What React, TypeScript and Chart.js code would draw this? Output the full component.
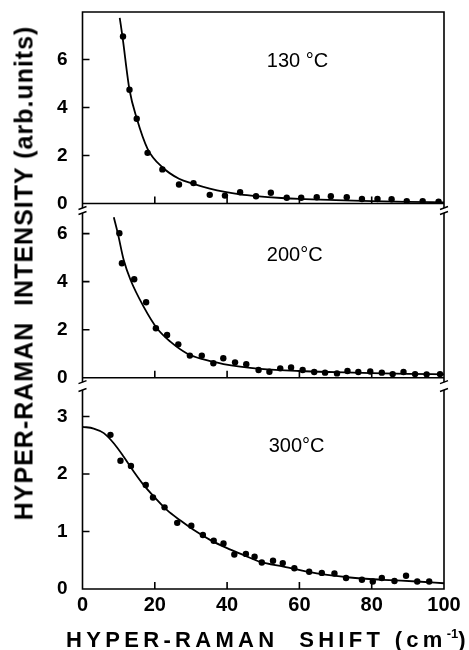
import React, { useEffect, useRef } from "react";
import { Chart, registerables } from "chart.js";

Chart.register(...registerables);

// ---------- data ----------
const X_TICKS = [0, 20, 40, 60, 80, 100];

const P1_LABEL = "130 °C";
const P1_Y_TICKS = [0, 2, 4, 6];
const P1_PTS_X = [11.2, 13.0, 15.0, 18.0, 22.1, 26.7, 30.7, 35.2, 39.4, 43.6, 48.0, 52.1, 56.5, 60.5, 64.8, 68.7, 73.1, 77.3, 81.6, 85.5, 89.7, 94.1, 98.5];
const P1_PTS_Y = [6.96, 4.74, 3.53, 2.11, 1.42, 0.79, 0.85, 0.36, 0.33, 0.47, 0.30, 0.45, 0.24, 0.24, 0.26, 0.30, 0.26, 0.19, 0.19, 0.18, 0.10, 0.10, 0.08];
const P1_FIT_X = [10.3, 11.05, 13.0, 15.0, 18.0, 22.1, 26.7, 30.7, 35.2, 39.4, 43.6, 48.0, 55, 60, 70, 80, 90, 100];
const P1_FIT_Y = [7.74, 6.96, 4.74, 3.55, 2.28, 1.51, 1.03, 0.82, 0.62, 0.48, 0.38, 0.31, 0.23, 0.19, 0.14, 0.10, 0.07, 0.05];

const P2_LABEL = "200°C";
const P2_Y_TICKS = [0, 2, 4, 6];
const P2_PTS_X = [10.2, 10.9, 14.3, 17.6, 20.3, 23.4, 26.5, 29.7, 33.0, 36.2, 38.95, 42.2, 45.3, 48.7, 51.7, 54.7, 57.7, 60.9, 64.1, 67.1, 70.4, 73.3, 76.3, 79.6, 82.8, 85.8, 88.8, 92.0, 95.2, 98.9];
const P2_PTS_Y = [6.02, 4.77, 4.10, 3.14, 2.06, 1.78, 1.39, 0.92, 0.92, 0.60, 0.81, 0.64, 0.56, 0.32, 0.25, 0.39, 0.43, 0.32, 0.24, 0.21, 0.18, 0.28, 0.24, 0.26, 0.21, 0.15, 0.24, 0.15, 0.14, 0.15];
const P2_FIT_X = [8.66, 9.76, 11.4, 13.3, 16.9, 20.6, 24.3, 28.9, 33.5, 39.0, 43.6, 49.2, 60, 70, 80, 90, 100];
const P2_FIT_Y = [6.68, 6.02, 4.90, 4.07, 2.96, 2.06, 1.50, 1.01, 0.76, 0.57, 0.46, 0.37, 0.28, 0.23, 0.19, 0.16, 0.14];

const P3_LABEL = "300°C";
const P3_Y_TICKS = [0, 1, 2, 3];
const P3_PTS_X = [7.73, 10.5, 13.4, 17.5, 19.5, 22.7, 26.2, 30.1, 33.3, 36.3, 39.0, 42.0, 45.2, 47.6, 49.6, 52.7, 55.4, 58.6, 62.7, 66.2, 69.7, 72.9, 77.3, 80.3, 82.8, 86.3, 89.5, 92.6, 95.9];
const P3_PTS_Y = [2.68, 2.23, 2.14, 1.81, 1.59, 1.42, 1.15, 1.10, 0.94, 0.84, 0.79, 0.60, 0.61, 0.56, 0.46, 0.49, 0.45, 0.36, 0.30, 0.28, 0.27, 0.19, 0.16, 0.13, 0.19, 0.14, 0.23, 0.13, 0.13];
const P3_FIT_X = [0, 3.1, 5.9, 8.7, 11.4, 14.2, 16.9, 19.7, 23.4, 27.1, 30.7, 35.4, 40.0, 44.6, 49.2, 55.6, 64.8, 74.0, 83.2, 92.5, 100];
const P3_FIT_Y = [2.82, 2.79, 2.71, 2.53, 2.30, 2.04, 1.81, 1.61, 1.37, 1.19, 1.03, 0.85, 0.71, 0.59, 0.47, 0.39, 0.27, 0.20, 0.16, 0.13, 0.10];

// ---------- layout (pixels / styles) ----------
const W = 469;
const H = 650;
const PLOT_LEFT = 82.5;
const PLOT_RIGHT = 444;
const FONT = "'Liberation Sans', Arial, Helvetica, sans-serif";

type Panel = {
  label: string;
  yTicks: number[];
  ptsX: number[];
  ptsY: number[];
  fitX: number[];
  fitY: number[];
  yMax: number;
  top: number;
  bottom: number;
  topLine: boolean;
  breakTop: boolean;
  breakBottom: boolean;
  showX: boolean;
  labelX: number;
  labelY: number;
};

const PANELS: Panel[] = [
  { label: P1_LABEL, yTicks: P1_Y_TICKS, ptsX: P1_PTS_X, ptsY: P1_PTS_Y, fitX: P1_FIT_X, fitY: P1_FIT_Y,
    yMax: 7.98, top: 12, bottom: 203.5, topLine: true, breakTop: false, breakBottom: true, showX: false, labelX: 51, labelY: 5.9 },
  { label: P2_LABEL, yTicks: P2_Y_TICKS, ptsX: P2_PTS_X, ptsY: P2_PTS_Y, fitX: P2_FIT_X, fitY: P2_FIT_Y,
    yMax: 6.86, top: 213, bottom: 377.7, topLine: false, breakTop: true, breakBottom: true, showX: false, labelX: 51, labelY: 5.1 },
  { label: P3_LABEL, yTicks: P3_Y_TICKS, ptsX: P3_PTS_X, ptsY: P3_PTS_Y, fitX: P3_FIT_X, fitY: P3_FIT_Y,
    yMax: 3.46, top: 390, bottom: 589, topLine: false, breakTop: true, breakBottom: false, showX: true, labelX: 51.5, labelY: 2.47 },
];

const framePlugin = {
  id: "frame",
  afterDraw(chart: any, _args: any, opts: any) {
    const p: Panel = opts.panel;
    if (!p) return;
    const { ctx, chartArea: a, scales } = chart;
    const xs = scales.x;
    const ys = scales.y;
    ctx.save();
    ctx.strokeStyle = "#000";
    ctx.lineWidth = 1.6;
    ctx.lineCap = "butt";
    ctx.beginPath();
    const ext = p.breakBottom ? 4.5 : 0;
    ctx.moveTo(a.left, a.top);
    ctx.lineTo(a.left, a.bottom + ext);
    ctx.moveTo(a.right, a.top);
    ctx.lineTo(a.right, a.bottom + ext);
    ctx.moveTo(a.left - 0.8, a.bottom);
    ctx.lineTo(a.right + 0.8, a.bottom);
    if (p.topLine) {
      ctx.moveTo(a.left - 0.8, a.top);
      ctx.lineTo(a.right + 0.8, a.top);
    }
    for (const t of X_TICKS) {
      if (t <= 0 || t >= 100) continue;
      const x = xs.getPixelForValue(t);
      ctx.moveTo(x, a.bottom);
      ctx.lineTo(x, a.bottom - 7);
    }
    for (const t of p.yTicks) {
      if (t <= 0) continue;
      const y = ys.getPixelForValue(t);
      ctx.moveTo(a.left, y);
      ctx.lineTo(a.left + 7, y);
    }
    ctx.stroke();
    // axis break marks
    ctx.lineWidth = 1.4;
    ctx.beginPath();
    const mark = (x: number, y: number) => {
      ctx.moveTo(x - 4, y + 1.5);
      ctx.lineTo(x + 4, y - 1.5);
    };
    if (p.breakBottom) {
      mark(a.left, a.bottom + ext);
      mark(a.right, a.bottom + ext);
    }
    if (p.breakTop) {
      mark(a.left, a.top);
      mark(a.right, a.top);
    }
    ctx.stroke();
    // temperature label
    ctx.fillStyle = "#000";
    ctx.font = `20px ${FONT}`;
    ctx.textAlign = "left";
    ctx.textBaseline = "middle";
    ctx.fillText(p.label, xs.getPixelForValue(p.labelX), ys.getPixelForValue(p.labelY));
    ctx.restore();
  },
};

function PanelChart({ panel }: { panel: Panel }) {
  const ref = useRef<HTMLCanvasElement | null>(null);
  useEffect(() => {
    if (!ref.current) return;
    const pts = panel.ptsX.map((x, i) => ({ x, y: panel.ptsY[i] }));
    const fit = panel.fitX.map((x, i) => ({ x, y: panel.fitY[i] }));
    const chart = new Chart(ref.current, {
      type: "scatter",
      data: {
        datasets: [
          {
            data: fit,
            showLine: true,
            borderColor: "#000",
            borderWidth: 1.8,
            pointRadius: 0,
            tension: 0.4,
            cubicInterpolationMode: "monotone",
            fill: false,
          } as any,
          {
            data: pts,
            showLine: false,
            pointRadius: 3.2,
            pointBackgroundColor: "#000",
            pointBorderColor: "#000",
            pointBorderWidth: 0,
          } as any,
        ],
      },
      options: {
        responsive: false,
        animation: false,
        events: [],
        layout: {
          autoPadding: false,
          padding: {
            left: 0,
            right: W - PLOT_RIGHT,
            top: panel.top,
            bottom: panel.showX ? 0 : H - panel.bottom,
          },
        },
        scales: {
          x: {
            type: "linear",
            min: 0,
            max: 100,
            display: panel.showX,
            grid: { display: false, drawTicks: false },
            border: { display: false },
            afterBuildTicks: (s: any) => {
              s.ticks = X_TICKS.map((v) => ({ value: v }));
            },
            afterFit: (s: any) => {
              s.height = panel.showX ? H - panel.bottom : 0;
              s.paddingLeft = 0;
              s.paddingRight = 0;
            },
            ticks: {
              color: "#000",
              font: { family: FONT, size: 20, weight: "bold" },
              padding: 4,
              maxRotation: 0,
              autoSkip: false,
            },
          },
          y: {
            type: "linear",
            min: 0,
            max: panel.yMax,
            grid: { display: false, drawTicks: false },
            border: { display: false },
            afterBuildTicks: (s: any) => {
              s.ticks = panel.yTicks.map((v) => ({ value: v }));
            },
            afterFit: (s: any) => {
              s.width = PLOT_LEFT;
              s.paddingTop = 0;
              s.paddingBottom = 0;
            },
            ticks: {
              color: "#000",
              font: { family: FONT, size: 19, weight: "bold" },
              padding: 15,
              autoSkip: false,
            },
          },
        } as any,
        plugins: {
          legend: { display: false },
          tooltip: { enabled: false },
          frame: { panel },
        } as any,
      },
      plugins: [framePlugin],
    });
    return () => chart.destroy();
  }, [panel]);
  return (
    <canvas
      ref={ref}
      width={W}
      height={H}
      style={{ position: "absolute", left: 0, top: 0, width: W, height: H }}
    />
  );
}

export default function App() {
  return (
    <div style={{ position: "absolute", left: 0, top: 0, width: W, height: H, background: "#fff", overflow: "hidden" }}>
      {PANELS.map((p, i) => (
        <PanelChart key={i} panel={p} />
      ))}
      <div
        style={{
          position: "absolute",
          left: 24,
          top: 273,
          transform: "translate(-50%, -50%) rotate(-90deg)",
          whiteSpace: "pre",
          fontFamily: FONT,
          fontWeight: "bold",
          fontSize: 25,
          letterSpacing: "1px",
          color: "#000",
          lineHeight: 1,
        }}
      >
        HYPER-RAMAN  INTENSITY (arb.units)
      </div>
      <div
        style={{
          position: "absolute",
          left: 268,
          top: 639,
          transform: "translate(-50%, -50%)",
          whiteSpace: "pre",
          fontFamily: FONT,
          fontWeight: "bold",
          fontSize: 22,
          letterSpacing: "4.3px",
          color: "#000",
          lineHeight: 1,
        }}
      >
        HYPER-RAMAN  SHIFT (cm<sup style={{ fontSize: 13, verticalAlign: "9px", letterSpacing: 0 }}>-1</sup>)
      </div>
    </div>
  );
}
